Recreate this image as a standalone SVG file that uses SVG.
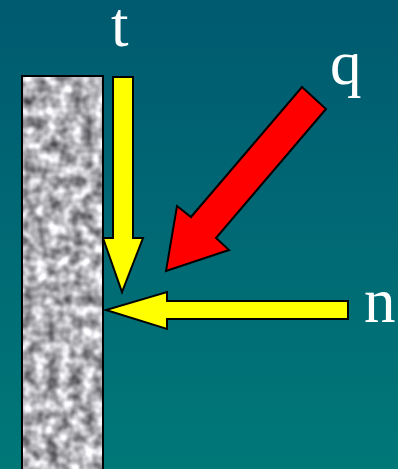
<svg xmlns="http://www.w3.org/2000/svg" width="398" height="469" viewBox="0 0 398 469">
  <defs>
    <linearGradient id="bg" x1="0" y1="0" x2="0" y2="1">
      <stop offset="0" stop-color="#005a70"/>
      <stop offset="1" stop-color="#007878"/>
    </linearGradient>
    <filter id="grain" filterUnits="userSpaceOnUse" x="22" y="76" width="82" height="394" color-interpolation-filters="sRGB">
      <feTurbulence type="fractalNoise" baseFrequency="0.085" numOctaves="2" seed="3"/>
      <feColorMatrix type="matrix" values="1.15 0 0 0 0.12  1.15 0 0 0 0.12  1.15 0 0 0 0.14  0 0 0 0 1"/>
    </filter>
    <style>
      .lbl { font-family: "Liberation Serif", "Times New Roman", serif; font-size: 63px; fill: #ffffff; }
      .arrow { stroke: #000000; stroke-width: 2; stroke-linejoin: miter; }
      .yellow { fill: #ffff00; }
      .red { fill: #ff0000; }
    </style>
  </defs>
  <rect x="0" y="0" width="398" height="469" fill="url(#bg)"/>
  <g id="wall">
    <rect x="22" y="76" width="81" height="395" fill="#aaa" filter="url(#grain)"/>
    <rect x="22" y="76" width="81" height="395" fill="none" stroke="#000" stroke-width="2"/>
  </g>
  <g id="connectors">
    <polygon id="arrow-t" class="arrow yellow" points="113,77 133,77 133,238 143,238 122,292 103,238 113,238"/>
    <polygon id="arrow-q" class="arrow red" points="302,87 326,109 216,238 229,250 166,271 177,206 191,217"/>
    <polygon id="arrow-n" class="arrow yellow" points="348,301 167,301 167,292 106,310 167,329 167,319 348,319"/>
  </g>
  <g id="label-t"><text class="lbl" x="111" y="46">t</text></g>
  <g id="label-q"><text class="lbl" x="330" y="84">q</text></g>
  <g id="label-n"><text class="lbl" x="364" y="322">n</text></g>
</svg>
